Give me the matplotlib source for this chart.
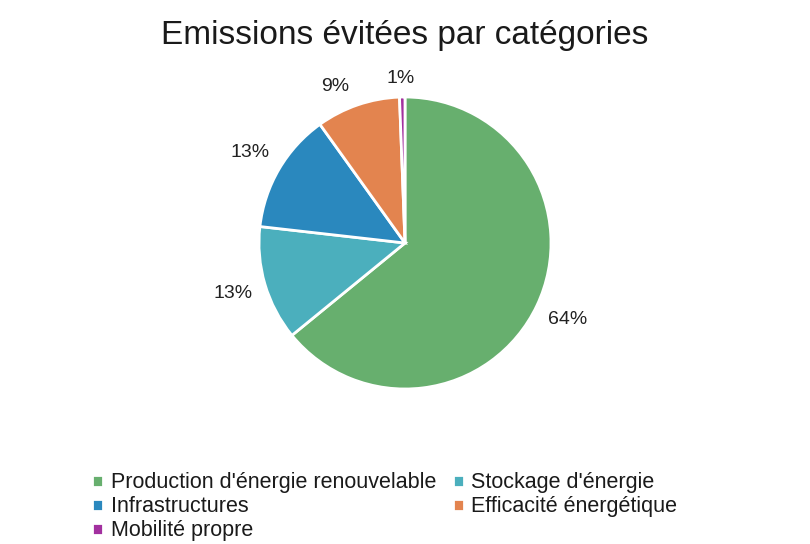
import matplotlib.pyplot as plt

plt.rcParams['font.family'] = ['Liberation Sans', 'DejaVu Sans']

# données
categories = ["Production d'énergie renouvelable", "Stockage d'énergie",
              "Infrastructures", "Efficacité énergétique", "Mobilité propre"]
parts = [64.1, 12.7, 13.3, 9.3, 0.6]
couleurs = ['#67AF6E', '#4BAFBD', '#2A88BE', '#E3844F', '#A2309F']

fig = plt.figure(figsize=(8.1, 5.44), dpi=100)
fig.text(0.5, 0.935, 'Emissions évitées par catégories', ha='center', va='center',
         fontsize=24, color='#1a1a1a')

r = 146
ax = fig.add_axes([0.5 - r / 810, 1 - 243 / 544 - r / 544, 2 * r / 810, 2 * r / 544])
wedges, texts, autotexts = ax.pie(
    parts, colors=couleurs, startangle=90, counterclock=False,
    autopct='%.0f%%', pctdistance=1.23,
    wedgeprops=dict(edgecolor='white', linewidth=2),
    textprops=dict(fontsize=14, color='#222222'))

# petites étiquettes du haut un peu rapprochées du disque
for t, (dx, dy) in zip(autotexts[3:], [(-0.08, -0.09), (-0.01, -0.1)]):
    x, y = t.get_position()
    t.set_position((x + dx, y + dy))

ax.set_xlim(-1, 1)
ax.set_ylim(-1, 1)
ax.set_aspect('equal')

# légende en bas, deux colonnes remplies ligne par ligne
order = [0, 2, 4, 1, 3]
fig.legend([wedges[i] for i in order], [categories[i] for i in order],
           loc='lower left', bbox_to_anchor=(0.09, -0.031), ncol=2,
           frameon=False, fontsize=15.5, handlelength=0.5, handleheight=0.5,
           handletextpad=0.35, columnspacing=0.8, labelspacing=0.14,
           labelcolor='#1a1a1a')

fig.savefig('out.png', dpi=100)
